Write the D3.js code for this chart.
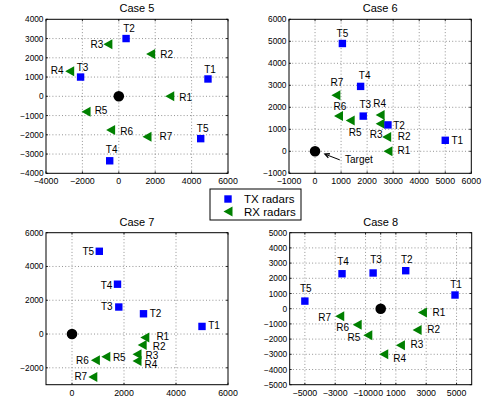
<!DOCTYPE html>
<html><head><meta charset="utf-8">
<script src="https://cdn.jsdelivr.net/npm/d3@7"></script>
<style>body{margin:0;background:#fff}svg{display:block}text{font-family:"Liberation Sans",Arial,Helvetica,sans-serif;fill:#000}</style>
</head><body>
<script>
// ---------- data ----------
const caseTitles = ["Case 5", "Case 6", "Case 7", "Case 8"];
const txNames = ["T1", "T2", "T3", "T4", "T5"];
const rxNames = ["R1", "R2", "R3", "R4", "R5", "R6", "R7"];
const legendLabels = ["TX radars", "RX radars"];
const targetLabel = "Target";

const tx5 = [[4900, 900], [400, 3000], [-2100, 1000], [-500, -3350], [4500, -2200]];
const rx5 = [[2800, 0], [1750, 2200], [-600, 2700], [-2700, 1300], [-1800, -800], [-450, -1750], [1550, -2100]];
const tx6 = [[5000, 500], [2800, 1200], [1850, 1600], [1750, 2950], [1050, 4900]];
const rx6 = [[2800, 0], [2750, 650], [2500, 1250], [2500, 1650], [1350, 1400], [900, 1600], [800, 2550]];
const tx7 = [[5000, 450], [2750, 1200], [1800, 1600], [1750, 2950], [1050, 4900]];
const rx7 = [[2800, -200], [2700, -650], [2500, -1200], [2500, -1600], [1300, -1350], [900, -1550], [800, -2550]];
const tx8 = [[4900, 900], [1650, 2500], [-500, 2350], [-2550, 2300], [-5000, 500]];
const rx8 = [[2750, -250], [2400, -1400], [1300, -2400], [200, -3000], [-850, -1750], [-1550, -1050], [-2700, -500]];
const target = [0, 0];

const xDom5 = [-4000, 6000], yDom5 = [-4000, 4000];
const xDom6 = [-1000, 6000], yDom6 = [-1000, 6000];
const xDom7 = [-1000, 6000], yDom7 = [-3000, 6000];
const xDom8 = [-6000, 6000], yDom8 = [-5000, 5000];
const xTicks5 = [-4000, -2000, 0, 2000, 4000, 6000];
const yTicks5 = [-4000, -3000, -2000, -1000, 0, 1000, 2000, 3000, 4000];
const xTicks6 = [-1000, 0, 1000, 2000, 3000, 4000, 5000, 6000];
const yTicks6 = [-1000, 0, 1000, 2000, 3000, 4000, 5000, 6000];
const xTicks7 = [0, 2000, 4000, 6000];
const yTicks7 = [-2000, 0, 2000, 4000, 6000];
const xTicks8 = [-5000, -3000, -1000, 0, 1000, 3000, 5000];
const yTicks8 = [-5000, -4000, -3000, -2000, -1000, 0, 1000, 2000, 3000, 4000, 5000];
const targetArrow6 = {text: [1150, -380], tail: [950, -390], head: [380, -130]};

// ---------- layout (pixels) ----------
const txOff = [
  [[2, -10], [3, -10], [2, -10], [2, -11], [2, -10]],
  [[12, 0], [11, 0], [2, -11.5], [4, -11], [0, -10.5]],
  [[12, -1.5], [12, -0.5], [-12, -0.5], [-11, 1], [-11, 0]],
  [[1, -11], [1, -11], [3, -14], [1, -12], [1, -13]]
];
const rxOff = [
  [[16, 1], [16, 0], [-11, 0], [-12.5, -0.5], [15, -1.5], [16, 1.5], [19, 0]],
  [[16, -0.5], [17.5, -0.5], [-4, 11], [-0.5, -12], [5, 11.5], [1.5, -9.5], [1, -13]],
  [[18, -1.5], [17, 1.5], [15, 1.5], [14, 3.5], [13.5, 0.5], [-13, 0.5], [-12, -0.5]],
  [[16.5, 0], [16.5, -0.5], [16.5, -1], [16, 4.5], [-14, 2.5], [-14.5, 2.5], [-15, 1.5]]
];
const boxes = [
  {x0: 46, x1: 228, y0: 19.3, y1: 173.3},
  {x0: 289, x1: 471.3, y0: 19.3, y1: 173.3},
  {x0: 46, x1: 228, y0: 232.7, y1: 384.7},
  {x0: 289.7, x1: 471.7, y0: 232.7, y1: 384.7}
];
const panels = [
  {xDom: xDom5, yDom: yDom5, xTicks: xTicks5, yTicks: yTicks5, tx: tx5, rx: rx5},
  {xDom: xDom6, yDom: yDom6, xTicks: xTicks6, yTicks: yTicks6, tx: tx6, rx: rx6},
  {xDom: xDom7, yDom: yDom7, xTicks: xTicks7, yTicks: yTicks7, tx: tx7, rx: rx7},
  {xDom: xDom8, yDom: yDom8, xTicks: xTicks8, yTicks: yTicks8, tx: tx8, rx: rx8}
];

const BLUE = "#0000ff", GREEN = "#008000";
const triPath = "M-4.5,0L4.5,-5L4.5,5Z";
const fmt = v => (v < 0 ? "\u2212" + Math.abs(v) : String(v));

const svg = d3.select("body").append("svg").attr("width", 486).attr("height", 404);
svg.append("rect").attr("width", 486).attr("height", 404).attr("fill", "#fff");

panels.forEach((p, i) => {
  const b = boxes[i];
  const x = d3.scaleLinear().domain(p.xDom).range([b.x0, b.x1]);
  const y = d3.scaleLinear().domain(p.yDom).range([b.y1, b.y0]);
  const g = svg.append("g");
  g.append("rect").attr("x", b.x0).attr("y", b.y0).attr("width", b.x1 - b.x0).attr("height", b.y1 - b.y0).attr("fill", "#fff");
  // grid
  const grid = g.append("g").attr("stroke", "#666").attr("stroke-width", 0.7).attr("stroke-dasharray", "1,2.2");
  p.xTicks.filter(t => t > p.xDom[0] && t < p.xDom[1]).forEach(t => {
    grid.append("line").attr("x1", x(t)).attr("x2", x(t)).attr("y1", b.y0).attr("y2", b.y1);
  });
  p.yTicks.filter(t => t > p.yDom[0] && t < p.yDom[1]).forEach(t => {
    grid.append("line").attr("y1", y(t)).attr("y2", y(t)).attr("x1", b.x0).attr("x2", b.x1);
  });
  // ticks (inward, all sides)
  const tk = g.append("g").attr("stroke", "#000").attr("stroke-width", 0.8);
  p.xTicks.forEach(t => {
    tk.append("line").attr("x1", x(t)).attr("x2", x(t)).attr("y1", b.y1).attr("y2", b.y1 - 2);
    tk.append("line").attr("x1", x(t)).attr("x2", x(t)).attr("y1", b.y0).attr("y2", b.y0 + 2);
  });
  p.yTicks.forEach(t => {
    tk.append("line").attr("y1", y(t)).attr("y2", y(t)).attr("x1", b.x0).attr("x2", b.x0 + 2);
    tk.append("line").attr("y1", y(t)).attr("y2", y(t)).attr("x1", b.x1).attr("x2", b.x1 - 2);
  });
  g.append("rect").attr("x", b.x0).attr("y", b.y0).attr("width", b.x1 - b.x0).attr("height", b.y1 - b.y0)
    .attr("fill", "none").attr("stroke", "#000").attr("stroke-width", 1);
  // tick labels
  p.xTicks.forEach(t => {
    g.append("text").attr("x", x(t)).attr("y", b.y1 + 11).attr("text-anchor", "middle")
      .attr("font-size", 8.8).text(fmt(t));
  });
  p.yTicks.forEach(t => {
    g.append("text").attr("x", b.x0 - 2.5).attr("y", y(t) + 3).attr("text-anchor", "end")
      .attr("font-size", 8.3).text(fmt(t));
  });
  // title
  g.append("text").attr("x", (b.x0 + b.x1) / 2).attr("y", b.y0 - 7).attr("text-anchor", "middle")
    .attr("font-size", 11).text(caseTitles[i]);
  // target
  g.append("circle").attr("cx", x(target[0])).attr("cy", y(target[1])).attr("r", 5.3).attr("fill", "#000");
  // RX
  p.rx.forEach((d, j) => {
    g.append("path").attr("d", triPath).attr("transform", `translate(${x(d[0])},${y(d[1])})`).attr("fill", GREEN);
    g.append("text").attr("x", x(d[0]) + rxOff[i][j][0]).attr("y", y(d[1]) + rxOff[i][j][1] + 3.6)
      .attr("text-anchor", "middle").attr("font-size", 10).text(rxNames[j]);
  });
  // TX
  p.tx.forEach((d, j) => {
    g.append("rect").attr("x", x(d[0]) - 3.7).attr("y", y(d[1]) - 3.7).attr("width", 7.4).attr("height", 7.4).attr("fill", BLUE);
    g.append("text").attr("x", x(d[0]) + txOff[i][j][0]).attr("y", y(d[1]) + txOff[i][j][1] + 3.6)
      .attr("text-anchor", "middle").attr("font-size", 10).text(txNames[j]);
  });
  if (i === 1) {
    const a = targetArrow6;
    const hx = x(a.head[0]), hy = y(a.head[1]), tx = x(a.tail[0]), ty = y(a.tail[1]);
    g.append("line").attr("x1", tx).attr("y1", ty).attr("x2", hx).attr("y2", hy).attr("stroke", "#000").attr("stroke-width", 1);
    const ang = Math.atan2(ty - hy, tx - hx), L = 5, w = 0.45;
    g.append("path").attr("d", `M${hx + L * Math.cos(ang + w)},${hy + L * Math.sin(ang + w)}L${hx},${hy}L${hx + L * Math.cos(ang - w)},${hy + L * Math.sin(ang - w)}`)
      .attr("fill", "none").attr("stroke", "#000").attr("stroke-width", 1.3);
    g.append("text").attr("x", x(a.text[0])).attr("y", y(a.text[1]) + 3.6).attr("font-size", 10).text(targetLabel);
  }
});

// legend
const lg = svg.append("g");
lg.append("rect").attr("x", 210).attr("y", 189).attr("width", 91).attr("height", 31).attr("fill", "#fff").attr("stroke", "#000").attr("stroke-width", 1);
lg.append("rect").attr("x", 228 - 3.7).attr("y", 199 - 3.7).attr("width", 7.4).attr("height", 7.4).attr("fill", BLUE);
lg.append("path").attr("d", triPath).attr("transform", "translate(228,211.5)").attr("fill", GREEN);
legendLabels.forEach((t, k) => {
  lg.append("text").attr("x", 244).attr("y", 203 + k * 12.5).attr("font-size", 11.5).text(t);
});
</script>
</body></html>
